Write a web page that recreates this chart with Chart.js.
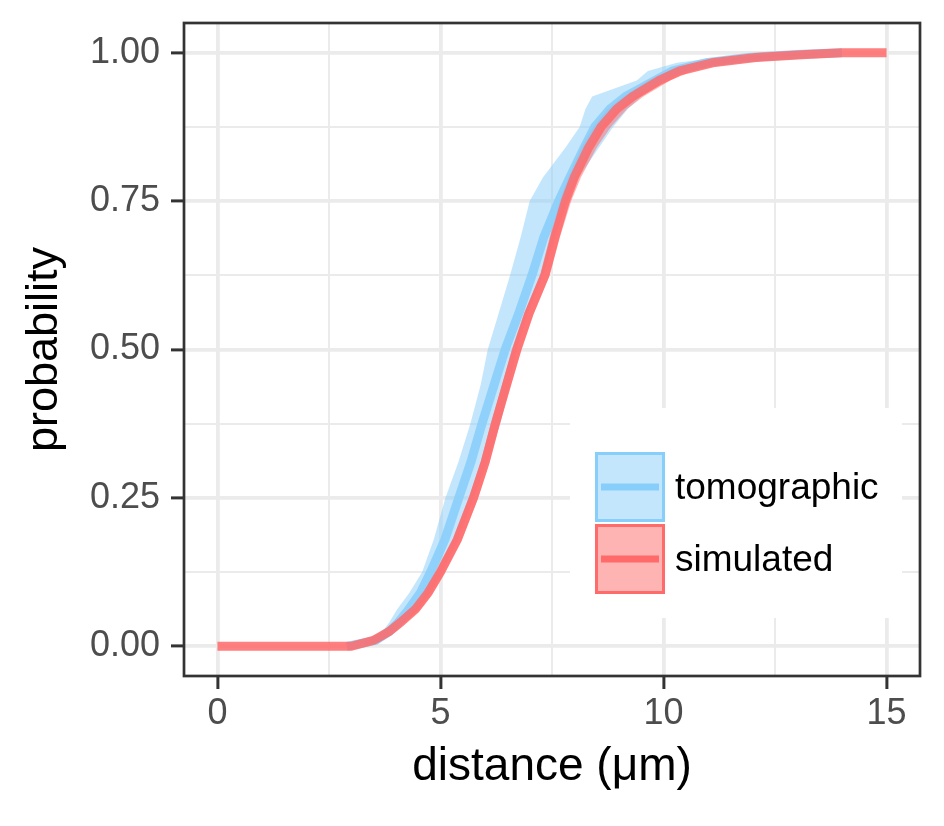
<!DOCTYPE html>
<html>
<head>
<meta charset="utf-8">
<script src="https://cdn.jsdelivr.net/npm/chart.js@4"></script>
<style>
  html, body { margin: 0; padding: 0; background: #fff; }
</style>
</head>
<body>
<canvas id="myChart" width="944" height="826"></canvas>
<script>
var probLevels = [0, 0.01, 0.025, 0.04, 0.0625, 0.09, 0.125, 0.18, 0.25, 0.31, 0.375, 0.44, 0.5, 0.56,
                  0.625, 0.69, 0.75, 0.79, 0.84, 0.875, 0.905, 0.926, 0.953, 0.969, 0.983, 0.992, 0.997, 1];

// simulated: distance at each level (line + band edges)
var simX      = [3.0, 3.5, 3.85, 4.1, 4.44, 4.72, 5.0, 5.38, 5.74, 6.0, 6.23, 6.48, 6.71, 6.98,
                 7.34, 7.57, 7.8, 8.0, 8.32, 8.6, 8.95, 9.3, 9.9, 10.35, 11.1, 12.07, 13.2, 14.0];
var simUpperX = [2.4, 3.25, 3.7, 3.98, 4.33, 4.62, 4.9, 5.27, 5.63, 5.9, 6.13, 6.38, 6.6, 6.87,
                 7.23, 7.45, 7.67, 7.86, 8.15, 8.42, 8.75, 9.1, 9.65, 10.1, 10.8, 11.7, 12.8, 13.6];
var simLowerX = [3.3, 3.7, 4.0, 4.22, 4.55, 4.83, 5.1, 5.48, 5.84, 6.1, 6.33, 6.58, 6.82, 7.09,
                 7.45, 7.68, 7.93, 8.15, 8.5, 8.82, 9.18, 9.55, 10.15, 10.65, 11.45, 12.4, 13.5, 14.3];
var simStartX = 0;
var simEndX = 15;

// tomographic
var tomoX      = [2.9, 3.55, 3.85, 4.05, 4.29, 4.55, 4.78, 5.1, 5.41, 5.68, 5.93, 6.2, 6.45, 6.75,
                  7.05, 7.32, 7.65, 7.9, 8.22, 8.46, 8.8, 9.15, 9.8, 10.2, 10.96, 11.9, 13.0, 14.0];
var tomoUpperX = [2.8, 3.4, 3.7, 3.85, 4.03, 4.3, 4.59, 4.85, 5.11, 5.4, 5.67, 5.9, 6.06, 6.3,
                  6.56, 6.8, 7.0, 7.3, 7.8, 8.12, 8.25, 8.4, 9.4, 9.65, 10.3, 11.2, 12.3, 13.9];
var tomoLowerX = [3.2, 3.7, 3.95, 4.2, 4.5, 4.78, 5.04, 5.4, 5.74, 6.05, 6.34, 6.55, 6.71, 6.95,
                  7.3, 7.58, 7.85, 8.1, 8.55, 8.87, 9.2, 9.5, 10.05, 10.5, 11.3, 12.2, 13.3, 14.1];

var seriesNames = ['tomographic', 'simulated'];
var seriesColors = ['rgb(135,206,250)', 'rgb(255,106,106)'];
var lineColors = ['rgba(135,206,250,0.85)', 'rgba(255,106,106,0.85)'];
var bandColors = ['rgba(135,206,250,0.5)', 'rgba(255,106,106,0.5)'];

var xMajor = [0, 5, 10, 15];
var xMinor = [2.5, 7.5, 12.5];
var xLabels = ['0', '5', '10', '15'];
var yMajor = [0, 0.25, 0.5, 0.75, 1];
var yMinor = [0.125, 0.375, 0.625, 0.875];
var yLabels = ['0.00', '0.25', '0.50', '0.75', '1.00'];

function toPoints(xs) {
  return xs.map(function(x, i) { return {x: x, y: probLevels[i]}; });
}

var simPoints = [{x: simStartX, y: 0}].concat(toPoints(simX), [{x: simEndX, y: 1}]);

var fontFamily = "'Liberation Sans', Arial, sans-serif";

var legendBox = {
  id: 'legendBox',
  afterDatasetsDraw: function(chart) {
    var ctx = chart.ctx, a = chart.chartArea;
    var left = a.right - 350, top = a.bottom - 268;
    ctx.save();
    ctx.fillStyle = '#ffffff';
    ctx.fillRect(left, top, 332, 210);
    for (var i = 0; i < seriesNames.length; i++) {
      var ky = top + 44 + i * 72;
      var kx = left + 25;
      ctx.fillStyle = '#ffffff';
      ctx.fillRect(kx, ky, 70, 70);
      ctx.fillStyle = bandColors[i];
      ctx.fillRect(kx, ky, 70, 70);
      ctx.strokeStyle = seriesColors[i];
      ctx.lineWidth = 3;
      ctx.strokeRect(kx + 1.5, ky + 1.5, 67, 67);
      ctx.lineWidth = 7;
      ctx.beginPath();
      ctx.moveTo(kx + 6, ky + 35);
      ctx.lineTo(kx + 64, ky + 35);
      ctx.stroke();
      ctx.fillStyle = '#000000';
      ctx.font = '37px ' + fontFamily;
      ctx.textBaseline = 'middle';
      ctx.textAlign = 'left';
      ctx.fillText(seriesNames[i], left + 105, ky + 37);
    }
    ctx.restore();
  },
  afterDraw: function(chart) {
    var ctx = chart.ctx, a = chart.chartArea;
    ctx.save();
    ctx.strokeStyle = '#333333';
    ctx.lineWidth = 2.7;
    ctx.strokeRect(a.left, a.top, a.right - a.left, a.bottom - a.top);
    ctx.restore();
  }
};

function isMajor(list, v) {
  return list.some(function(m) { return Math.abs(m - v) < 1e-9; });
}

var ctx = document.getElementById('myChart').getContext('2d');
var chart = new Chart(ctx, {
  type: 'line',
  data: {
    datasets: [{
      label: seriesNames[1],
      data: simPoints,
      borderColor: lineColors[1],
      borderWidth: 9,
      pointRadius: 0,
      fill: false,
      order: 0
    }, {
      label: seriesNames[0],
      data: toPoints(tomoX),
      borderColor: lineColors[0],
      borderWidth: 9,
      pointRadius: 0,
      fill: false,
      order: 1
    }, {
      label: 'sim upper',
      data: toPoints(simUpperX),
      borderWidth: 0,
      borderColor: 'rgba(0,0,0,0)',
      backgroundColor: bandColors[1],
      pointRadius: 0,
      fill: 3,
      order: 2
    }, {
      label: 'sim lower',
      data: toPoints(simLowerX),
      borderWidth: 0,
      borderColor: 'rgba(0,0,0,0)',
      pointRadius: 0,
      fill: false,
      order: 2
    }, {
      label: 'tomo upper',
      data: toPoints(tomoUpperX),
      borderWidth: 0,
      borderColor: 'rgba(0,0,0,0)',
      backgroundColor: bandColors[0],
      pointRadius: 0,
      fill: 5,
      order: 3
    }, {
      label: 'tomo lower',
      data: toPoints(tomoLowerX),
      borderWidth: 0,
      borderColor: 'rgba(0,0,0,0)',
      pointRadius: 0,
      fill: false,
      order: 3
    }]
  },
  options: {
    responsive: false,
    animation: false,
    layout: { padding: { top: 23, right: 24, left: 0, bottom: 0 } },
    plugins: {
      legend: { display: false },
      tooltip: { enabled: false }
    },
    scales: {
      x: {
        type: 'linear',
        min: -0.75,
        max: 15.75,
        afterBuildTicks: function(scale) {
          scale.ticks = xMajor.concat(xMinor).sort(function(a, b) { return a - b; })
            .map(function(v) { return {value: v}; });
        },
        afterFit: function(scale) {
          scale.height = 150;
          scale.paddingLeft = 0;
          scale.paddingRight = 0;
        },
        grid: {
          color: '#EBEBEB',
          lineWidth: function(c) { return isMajor(xMajor, c.tick.value) ? 3.8 : 2; },
          tickLength: 13,
          tickWidth: 3,
          tickColor: function(c) { return isMajor(xMajor, c.tick.value) ? '#333333' : 'rgba(0,0,0,0)'; }
        },
        border: { display: false },
        ticks: {
          autoSkip: false,
          maxRotation: 0,
          padding: 3,
          color: '#4D4D4D',
          font: { family: fontFamily, size: 36 },
          callback: function(v) {
            var i = xMajor.indexOf(v);
            return i >= 0 ? xLabels[i] : '';
          }
        },
        title: {
          display: true,
          text: 'distance (μm)',
          color: '#000000',
          font: { family: fontFamily, size: 46 },
          padding: { top: 0, bottom: 31 }
        }
      },
      y: {
        min: -0.05,
        max: 1.05,
        afterBuildTicks: function(scale) {
          scale.ticks = yMajor.concat(yMinor).sort(function(a, b) { return a - b; })
            .map(function(v) { return {value: v}; });
        },
        afterFit: function(scale) {
          scale.width = 184;
          scale.paddingTop = 0;
          scale.paddingBottom = 0;
        },
        grid: {
          color: '#EBEBEB',
          lineWidth: function(c) { return isMajor(yMajor, c.tick.value) ? 3.8 : 2; },
          tickLength: 13,
          tickWidth: 3,
          tickColor: function(c) { return isMajor(yMajor, c.tick.value) ? '#333333' : 'rgba(0,0,0,0)'; }
        },
        border: { display: false },
        ticks: {
          autoSkip: false,
          padding: 11,
          color: '#4D4D4D',
          font: { family: fontFamily, size: 36 },
          callback: function(v) {
            var i = yMajor.indexOf(v);
            return i >= 0 ? yLabels[i] : '';
          }
        },
        title: {
          display: true,
          text: 'probability',
          color: '#000000',
          font: { family: fontFamily, size: 45 },
          padding: { top: 18, bottom: 0 }
        }
      }
    }
  },
  plugins: [legendBox]
});
</script>
</body>
</html>
